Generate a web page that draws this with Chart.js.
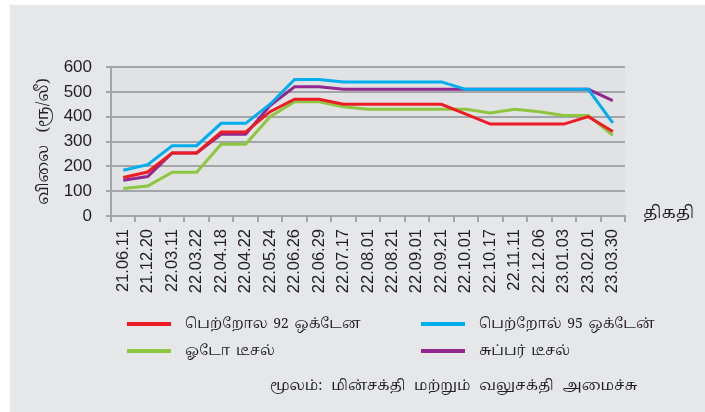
<!DOCTYPE html>
<html>
<head>
<meta charset="utf-8">
<script src="https://cdn.jsdelivr.net/npm/chart.js@4.4.0/dist/chart.umd.min.js"></script>
<style>
  html, body { margin: 0; padding: 0; background: #ffffff; }
  #wrap { position: relative; width: 705px; height: 412px; overflow: hidden; }
  #chart { position: absolute; left: 0; top: 0; }
  .txt { position: absolute; font-family: "Noto Serif Tamil", "Noto Sans Tamil", "Lohit Tamil", "FreeSerif", "Noto Sans", sans-serif; font-size: 14px; color: #231f20; white-space: nowrap; line-height: 20px; }
  #legend { position: absolute; left: 127px; top: 314px; width: 560px; }
  .leg-item { position: absolute; height: 20px; word-spacing: 2px; }
  .leg-line { position: absolute; top: 8px; width: 44px; height: 4px; }
  .leg-text { position: absolute; left: 58px; top: 0; }
</style>
</head>
<body>
<div id="wrap">
  <canvas id="chart" width="705" height="412"></canvas>
  <div class="txt" id="xTitle" style="left:643px; top:203px; font-size:17px;">திகதி</div>
  <div id="legend"></div>
  <div class="txt" id="source" style="left:270px; top:376px; font-size:14.5px; word-spacing:5px;">மூலம்: மின்சக்தி மற்றும் வலுசக்தி அமைச்சு</div>
</div>
<script>
// ===== Fuel price chart data =====
const dates = [
  "21.06.11", "21.12.20", "22.03.11", "22.03.22", "22.04.18", "22.04.22",
  "22.05.24", "22.06.26", "22.06.29", "22.07.17", "22.08.01", "22.08.21",
  "22.09.01", "22.09.21", "22.10.01", "22.10.17", "22.11.11", "22.12.06",
  "23.01.03", "23.02.01", "23.03.30"
];
const petrol92 = [155, 177, 254, 254, 338, 338, 420, 470, 470, 450, 450, 450, 450, 450, 410, 370, 370, 370, 370, 400, 340];
const petrol95 = [184, 207, 283, 283, 373, 373, 450, 550, 550, 540, 540, 540, 540, 540, 510, 510, 510, 510, 510, 510, 375];
const autoDiesel = [111, 121, 176, 176, 289, 289, 400, 460, 460, 440, 430, 430, 430, 430, 430, 415, 430, 420, 405, 405, 325];
const superDiesel = [144, 159, 254, 254, 329, 329, 445, 520, 520, 510, 510, 510, 510, 510, 510, 510, 510, 510, 510, 510, 465];
const yTicks = [0, 100, 200, 300, 400, 500, 600];

const seriesNames = ["பெற்றோல 92 ஒக்டேன", "பெற்றோல் 95 ஒக்டேன்", "ஓடோ டீசல்", "சுப்பர் டீசல்"];
const seriesColors = ["#ed1c24", "#00aeef", "#8dc63f", "#92278f"];

const tamilFont = "'Noto Serif Tamil', 'Noto Sans Tamil', 'Lohit Tamil', FreeSerif, 'Noto Sans', sans-serif";

// Background plugin: gray panel and slightly lighter plot area
const backgroundPlugin = {
  id: "panelBackground",
  beforeDraw(chart) {
    const ctx = chart.ctx;
    const area = chart.chartArea;
    ctx.save();
    ctx.fillStyle = "#e6e7e8";
    ctx.fillRect(10, 5, chart.width - 10, chart.height - 5);
    ctx.fillStyle = "#e1e2e4";
    ctx.fillRect(area.left, area.top, area.right - area.left, area.bottom - area.top);
    ctx.restore();
  }
};

function makeDataset(i, values) {
  return {
    label: seriesNames[i],
    data: values,
    borderColor: seriesColors[i],
    backgroundColor: seriesColors[i],
    borderWidth: 3,
    pointRadius: 0,
    tension: 0,
    fill: false
  };
}

const chart = new Chart(document.getElementById("chart"), {
  type: "line",
  data: {
    labels: dates,
    datasets: [
      makeDataset(0, petrol92),
      makeDataset(1, petrol95),
      makeDataset(2, autoDiesel),
      makeDataset(3, superDiesel)
    ]
  },
  options: {
    responsive: false,
    animation: false,
    layout: { padding: { left: 0, right: 80, top: 67, bottom: 0 } },
    plugins: {
      legend: { display: false },
      tooltip: { enabled: false }
    },
    scales: {
      x: {
        offset: true,
        afterFit(scale) { scale.height = 196; },
        grid: {
          offset: true,
          drawOnChartArea: false,
          drawTicks: true,
          tickLength: 6,
          color: "#a3a5a8",
          lineWidth: 2
        },
        border: { color: "#a3a5a8", width: 2 },
        ticks: {
          minRotation: 90,
          maxRotation: 90,
          autoSkip: false,
          padding: 7,
          color: "#231f20",
          font: { family: "'Liberation Sans', Arial, sans-serif", size: 16.5 }
        }
      },
      y: {
        min: 0,
        max: 600,
        afterFit(scale) { scale.width = 111; },
        afterBuildTicks(scale) { scale.ticks = yTicks.map(v => ({ value: v })); },
        grid: { color: "#a3a5a8", lineWidth: 2, tickLength: 5 },
        border: { color: "#a3a5a8", width: 2 },
        ticks: {
          padding: 14,
          color: "#231f20",
          font: { family: "'Liberation Sans', Arial, sans-serif", size: 17 }
        },
        title: {
          display: true,
          text: "விலை   (ரூ/லீ)",
          color: "#231f20",
          padding: { top: 35, bottom: 0 },
          font: { family: tamilFont, size: 16 }
        }
      }
    }
  },
  plugins: [backgroundPlugin]
});

// Build the two-column legend from the chart's datasets
const legendEl = document.getElementById("legend");
const legendSlots = [[0, 0], [294, 0], [0, 27], [294, 27]];
chart.data.datasets.forEach(function (ds, i) {
  const item = document.createElement("div");
  item.className = "leg-item txt";
  item.style.left = legendSlots[i][0] + "px";
  item.style.top = legendSlots[i][1] + "px";
  const line = document.createElement("span");
  line.className = "leg-line";
  line.style.background = ds.borderColor;
  const text = document.createElement("span");
  text.className = "leg-text";
  text.textContent = ds.label;
  item.appendChild(line);
  item.appendChild(text);
  legendEl.appendChild(item);
});
</script>
</body>
</html>
